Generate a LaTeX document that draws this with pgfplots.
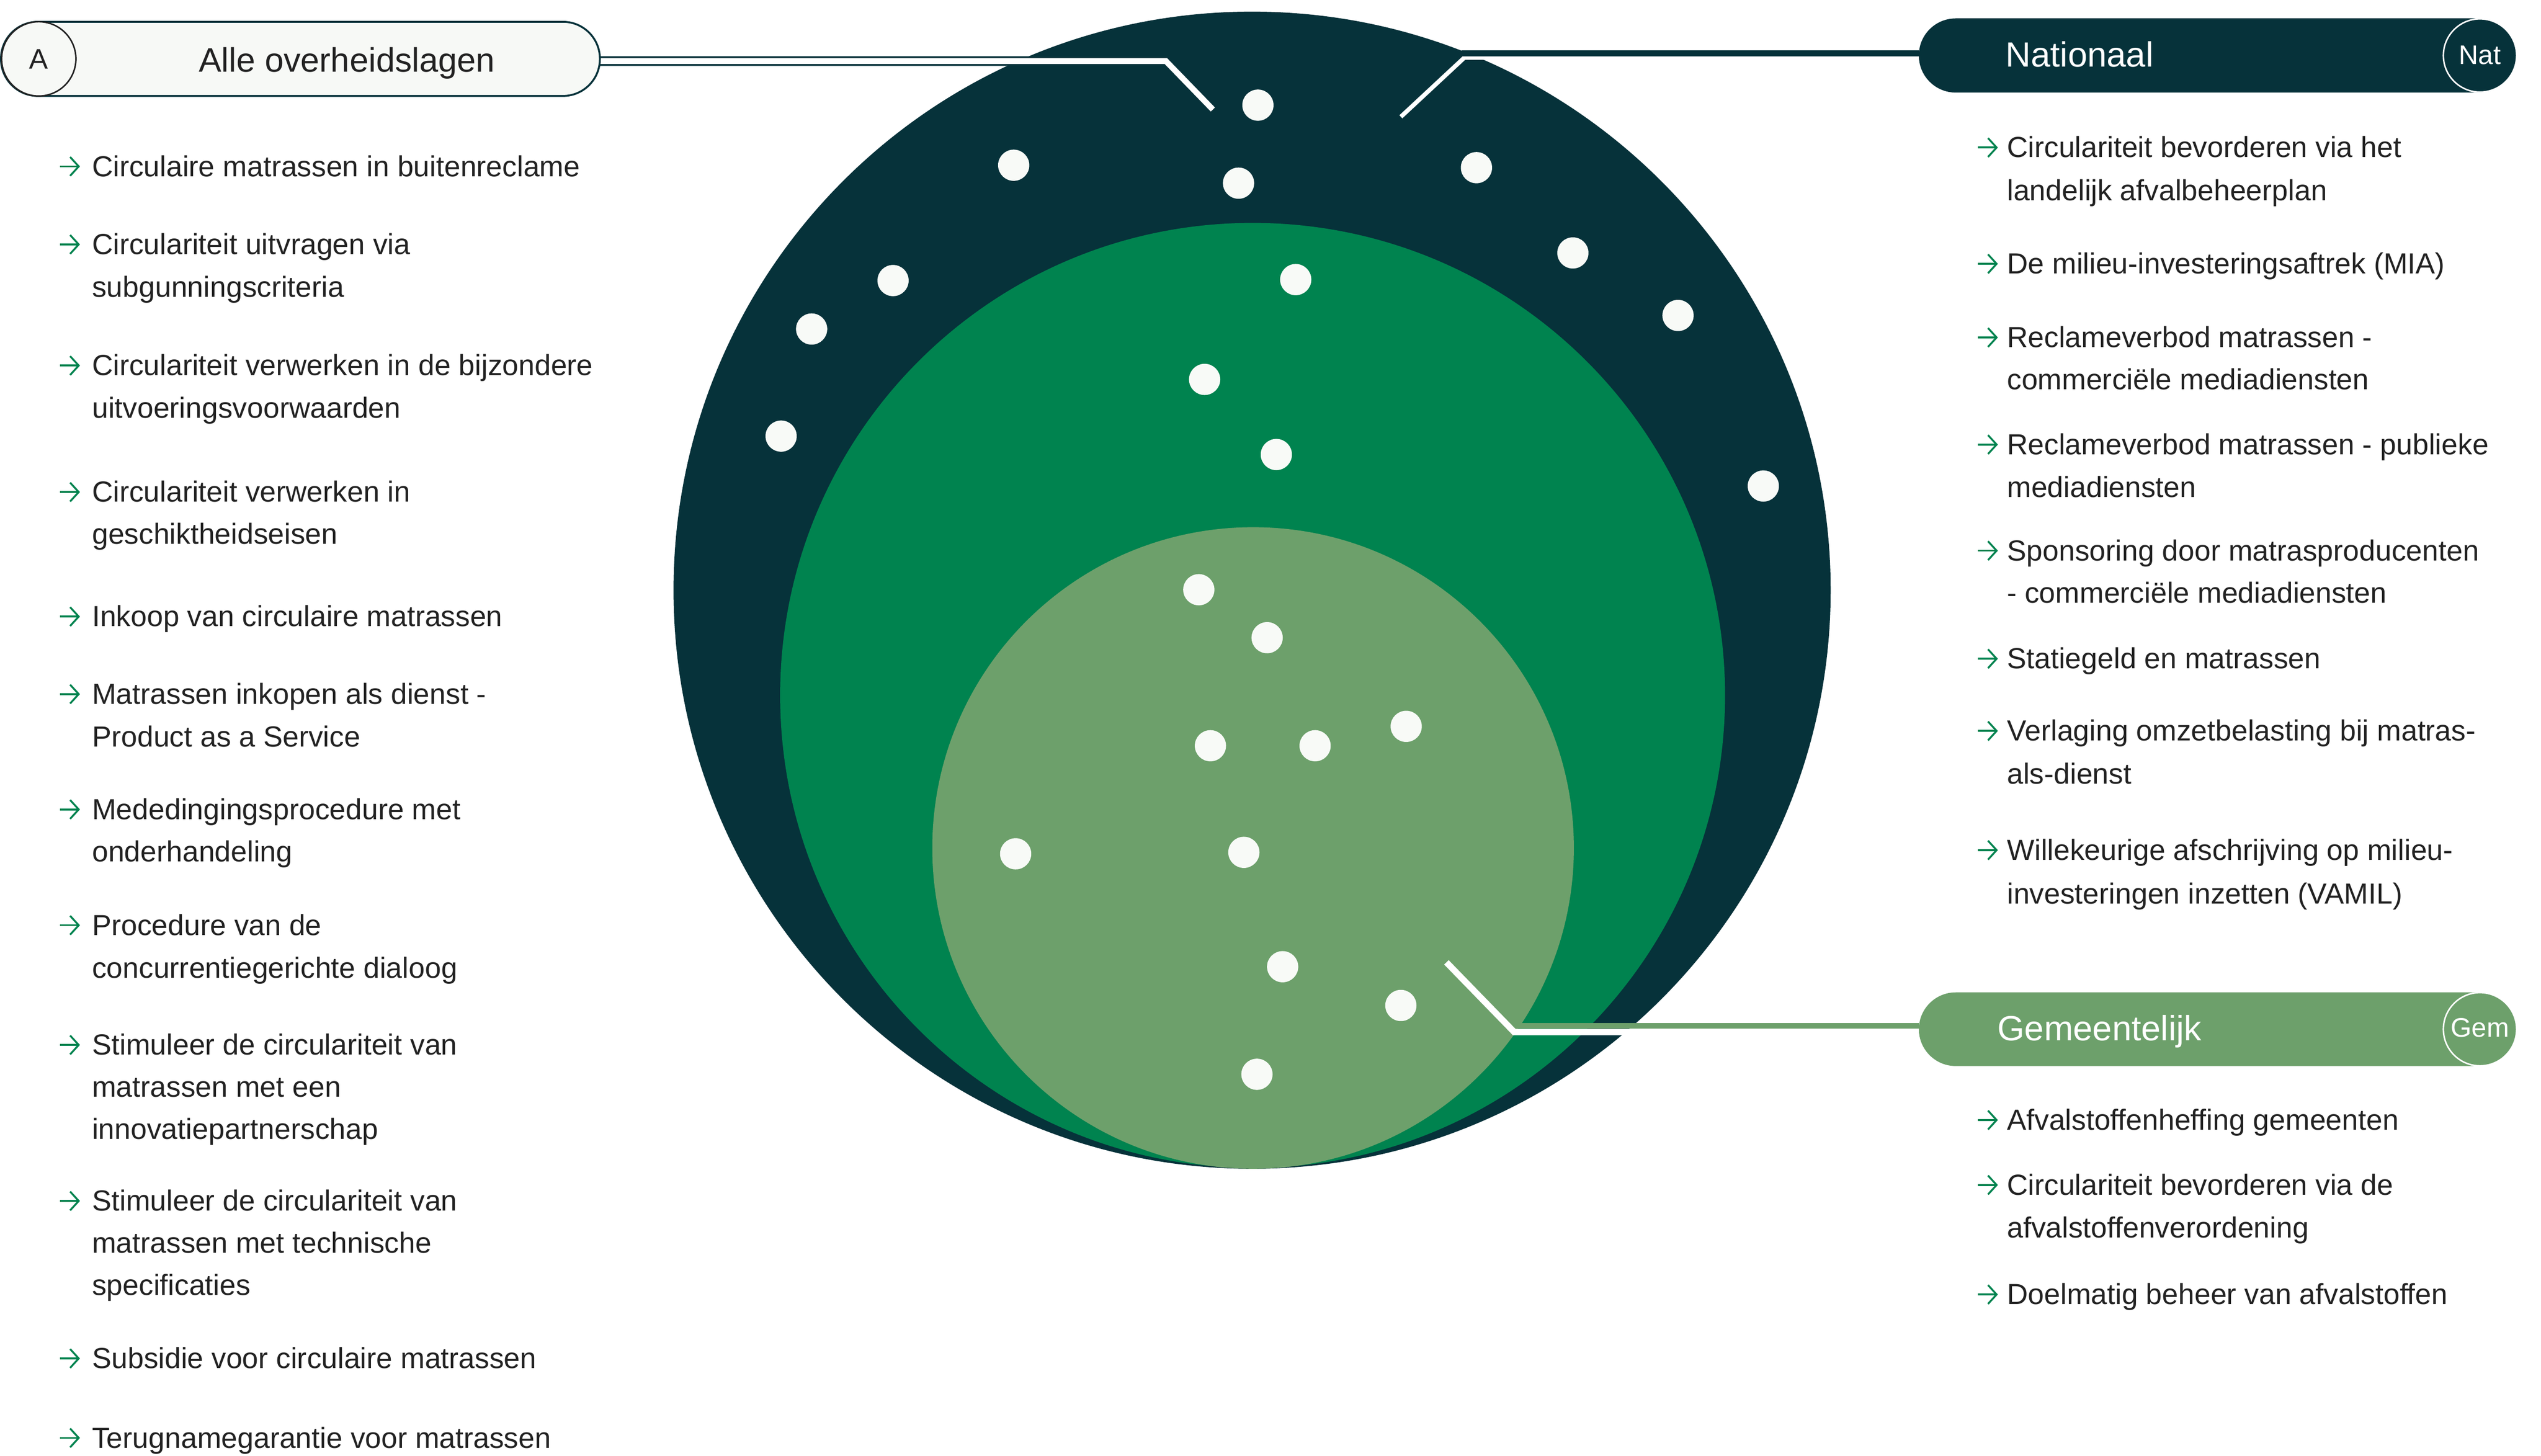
\documentclass[border=0pt]{standalone}
\usepackage{pgfplots}
\pgfplotsset{compat=1.18}
\usepackage{fontspec}
\setmainfont{Liberation Sans}
\usetikzlibrary{arrows.meta}
\definecolor{dark}{HTML}{06323A}
\definecolor{mid}{HTML}{00834F}
\definecolor{light}{HTML}{6DA06B}
\definecolor{pillbg}{HTML}{F7F9F6}
\definecolor{dotc}{HTML}{F8FAF7}
\definecolor{txtc}{HTML}{222222}
\definecolor{arrc}{HTML}{00834F}
\newcommand{\lf}{\fontsize{10.8}{13}\selectfont}
% arrow + first line of an item: #1 arrow x start, #2 text x, #3 baseline, #4 text
\newcommand{\itm}[4]{%
  \draw[arrc, line width=0.7pt, -{Straight Barb[length=3.2pt,width=7pt,line width=0.7pt]}]
    ([yshift=3.7pt]axis cs:#1,#3) -- ([yshift=3.7pt,xshift=7.4pt]axis cs:#1,#3);
  \node[anchor=base west, inner sep=0pt, text=txtc, font=\lf] at (axis cs:#2,#3) {#4};}
\newcommand{\cnt}[3]{%
  \node[anchor=base west, inner sep=0pt, text=txtc, font=\lf] at (axis cs:#1,#2) {#3};}
\begin{document}
\begin{tikzpicture}
\begin{axis}[x=0.18pt, y=0.18pt, y dir=reverse,
  xmin=0, xmax=5244, ymin=0, ymax=3004,
  hide axis, clip=false]
% the three nested circles (centre in axis units, radius 1194, 975, 662 units)
\fill[dark]  (axis cs:2584,1218) circle[radius=214.92pt];
\fill[mid]   (axis cs:2585,1435) circle[radius=175.5pt];
\fill[light] (axis cs:2586,1750) circle[radius=119.16pt];
% connector: Alle overheidslagen
\addplot[dark, line width=3.6pt, line join=miter, no markers] coordinates {(1230,126) (2406,126) (2503,226)};
\addplot[white, line width=2.16pt, line join=miter, no markers] coordinates {(1230,126) (2406,126) (2503,226)};
% connector: Nationaal
\addplot[white, line width=1.6pt, line join=miter, no markers] coordinates {(2891,241) (3022,119) (3960,119)};
\addplot[dark, line width=2.2pt, no markers] coordinates {(3016,110) (3960,110)};
% connector: Gemeentelijk
\addplot[white, line width=2.34pt, line join=miter, no markers] coordinates {(2985,1986) (3125,2130) (3960,2130)};
\addplot[light, line width=2pt, no markers] coordinates {(3129,2117) (3960,2117)};
% dots
\addplot[only marks, mark=*, color=dotc, mark size=5.6pt] coordinates {
(2596,217) (2092,341) (2556,378) (3047,346) (3246,522) (1843,579) (1675,679)
(3463,651) (1612,900) (3639,1003)
(2674,577) (2486,783) (2634,938)
(2474,1217) (2615,1316) (2498,1539) (2714,1539) (2902,1499) (2096,1762)
(2567,1759) (2647,1995) (2891,2075) (2594,2217)};

% pills
\draw[fill=pillbg, draw=dark, line width=0.7pt, rounded corners=13.7pt] (axis cs:2,45) rectangle (axis cs:1238,198);
\draw[fill=pillbg, draw=txtc, line width=0.55pt] (axis cs:80,121.5) circle[radius=13.8pt];
\node[anchor=base, inner sep=0pt, text=txtc, font=\fontsize{10.5}{12}\selectfont] at (axis cs:80,142) {A};
\node[anchor=base, inner sep=0pt, text=txtc, font=\fontsize{12.6}{15}\selectfont] at (axis cs:716,148) {Alle overheidslagen};

\fill[dark, rounded corners=13.7pt] (axis cs:3960,38) rectangle (axis cs:5194,191);
\draw[white, line width=0.55pt, fill=dark] (axis cs:5118,114.5) circle[radius=13.6pt];
\node[anchor=base west, inner sep=0pt, text=white, font=\fontsize{13}{15}\selectfont] at (axis cs:4138,138) {Nationaal};
\node[anchor=base, inner sep=0pt, text=white, font=\fontsize{10}{12}\selectfont] at (axis cs:5118,133) {Nat};

\fill[light, rounded corners=13.7pt] (axis cs:3960,2048) rectangle (axis cs:5194,2200);
\draw[white, line width=0.55pt, fill=light] (axis cs:5118,2124) circle[radius=13.6pt];
\node[anchor=base west, inner sep=0pt, text=white, font=\fontsize{13}{15}\selectfont] at (axis cs:4121,2147) {Gemeentelijk};
\node[anchor=base, inner sep=0pt, text=white, font=\fontsize{10}{12}\selectfont] at (axis cs:5118,2140) {Gem};

% left list
\itm{124}{189}{364}{Circulaire matrassen in buitenreclame}
\itm{124}{189}{525}{Circulariteit uitvragen via}
\cnt{189}{613}{subgunningscriteria}
\itm{124}{189}{775}{Circulariteit verwerken in de bijzondere}
\cnt{189}{863}{uitvoeringsvoorwaarden}
\itm{124}{189}{1036}{Circulariteit verwerken in}
\cnt{189}{1123}{geschiktheidseisen}
\itm{124}{189}{1293}{Inkoop van circulaire matrassen}
\itm{124}{189}{1453}{Matrassen inkopen als dienst -}
\cnt{189}{1541}{Product as a Service}
\itm{124}{189}{1691}{Mededingingsprocedure met}
\cnt{189}{1778}{onderhandeling}
\itm{124}{189}{1930}{Procedure van de}
\cnt{189}{2018}{concurrentiegerichte dialoog}
\itm{124}{189}{2177}{Stimuleer de circulariteit van}
\cnt{189}{2264}{matrassen met een}
\cnt{189}{2351}{innovatiepartnerschap}
\itm{124}{189}{2499}{Stimuleer de circulariteit van}
\cnt{189}{2586}{matrassen met technische}
\cnt{189}{2673}{specificaties}
\itm{124}{189}{2824}{Subsidie voor circulaire matrassen}
\itm{124}{189}{2988}{Terugnamegarantie voor matrassen}

% right list: Nationaal
\itm{4082}{4141}{325}{Circulariteit bevorderen via het}
\cnt{4141}{414}{landelijk afvalbeheerplan}
\itm{4082}{4141}{565}{De milieu-investeringsaftrek (MIA)}
\itm{4082}{4141}{717}{Reclameverbod matrassen -}
\cnt{4141}{804}{commerciële mediadiensten}
\itm{4082}{4141}{938}{Reclameverbod matrassen - publieke}
\cnt{4141}{1026}{mediadiensten}
\itm{4082}{4141}{1157}{Sponsoring door matrasproducenten}
\cnt{4141}{1244}{- commerciële mediadiensten}
\itm{4082}{4141}{1380}{Statiegeld en matrassen}
\itm{4082}{4141}{1529}{Verlaging omzetbelasting bij matras-}
\cnt{4141}{1618}{als-dienst}
\itm{4082}{4141}{1775}{Willekeurige afschrijving op milieu-}
\cnt{4141}{1865}{investeringen inzetten (VAMIL)}

% right list: Gemeentelijk
\itm{4082}{4141}{2332}{Afvalstoffenheffing gemeenten}
\itm{4082}{4141}{2466}{Circulariteit bevorderen via de}
\cnt{4141}{2554}{afvalstoffenverordening}
\itm{4082}{4141}{2692}{Doelmatig beheer van afvalstoffen}
\end{axis}
\pgfresetboundingbox
\path[use as bounding box] (0,0) rectangle (943.92pt,540.72pt);
\end{tikzpicture}
\end{document}
